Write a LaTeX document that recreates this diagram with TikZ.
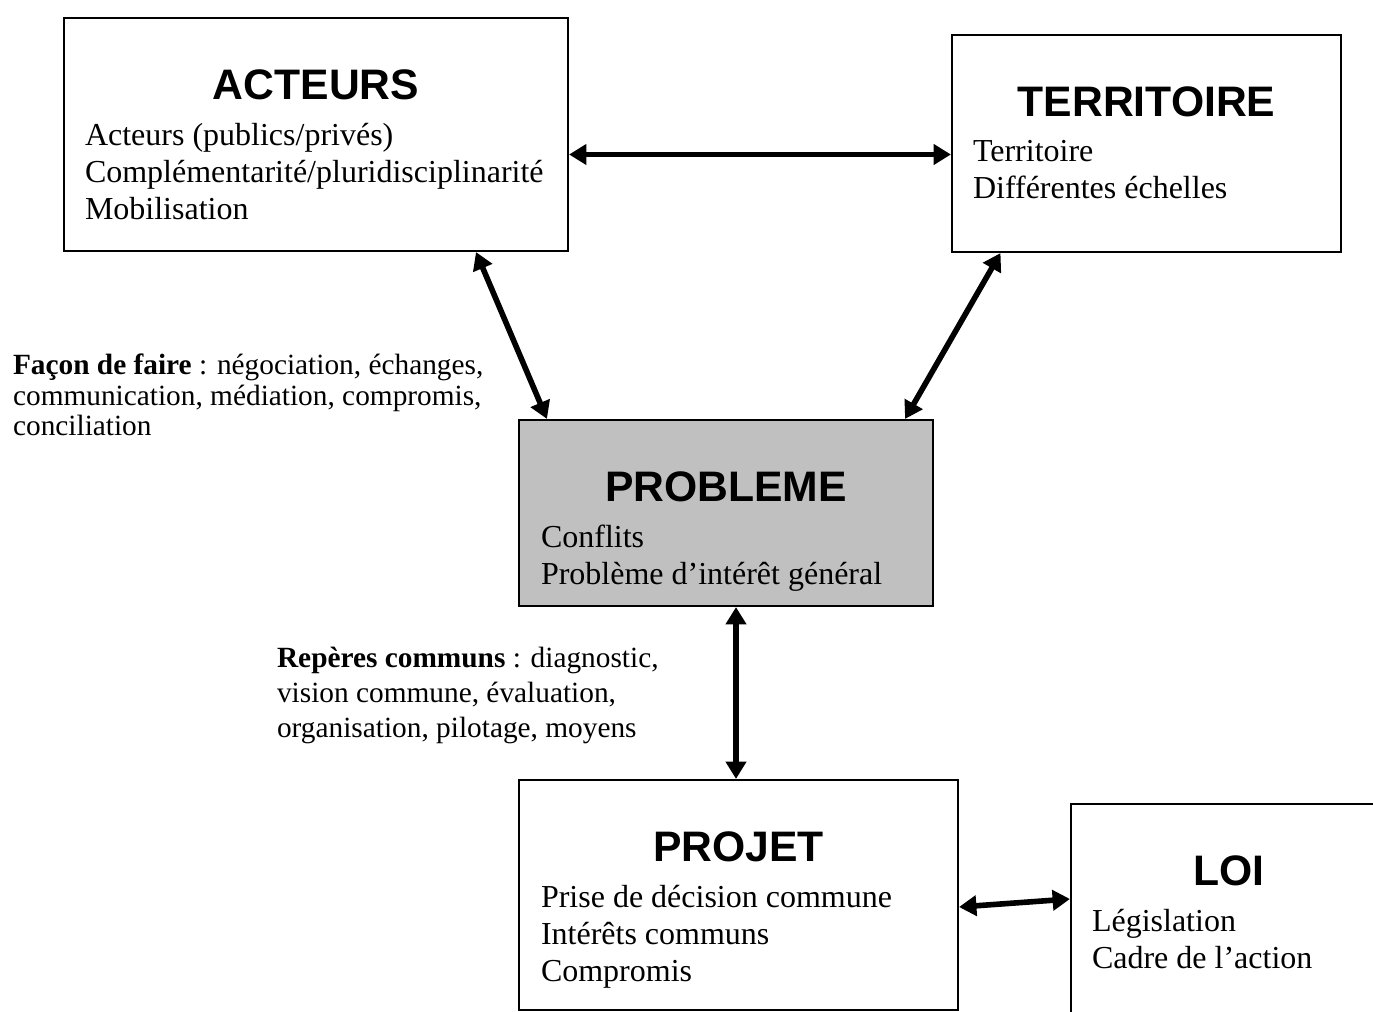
\documentclass[tikz,border=0pt]{standalone}
\usepackage{fontspec}
\setmainfont{Liberation Serif}
\newfontfamily\headfont{Liberation Sans}
\usetikzlibrary{arrows.meta, calc}
\definecolor{probgray}{RGB}{192,192,192}

\begin{document}
\begin{tikzpicture}[
    x=0.375pt, y=-0.375pt,
    line width=0.8pt,
    box/.style={
      rectangle,
      draw,
      inner sep=0pt
    },
    title/.style={
      font=\headfont\bfseries\fontsize{16}{19}\selectfont,
      anchor=base,
      inner sep=0pt
    },
    body/.style={
      font=\fontsize{12}{13.9}\selectfont,
      align=left,
      anchor=north west,
      inner sep=0pt
    },
    note/.style={
      align=left,
      anchor=north west,
      inner sep=0pt
    },
    arrowstyle/.style={
      {Triangle[length=6.5pt, width=7.5pt]}-{Triangle[length=6.5pt, width=7.5pt]},
      line width=2.1pt
    }
]
\useasboundingbox (0,0) rectangle (1373,1012);

% 1. BOXES
\node[box, minimum width=189pt, minimum height=87.375pt] (acteurs) at (316,134.5) {};
\node[box, minimum width=145.875pt, minimum height=81.375pt] (territoire) at (1146.5,143.5) {};
\node[box, fill=probgray, minimum width=155.25pt, minimum height=69.75pt] (probleme) at (726,513) {};
\node[box, minimum width=164.625pt, minimum height=86.25pt] (projet) at (738.5,895) {};
\node[box, minimum width=118.5pt, minimum height=92.25pt] (loi) at (1229,927) {};

% titles and contents
\node[title] (acteurstitle) at ($(acteurs.north)+(0,83)$) {ACTEURS};
\node[body] (acteurstext) at ($(acteurs.north west)+(21,105)$)
    {Acteurs (publics/privés)\\Complémentarité/pluridisciplinarité\\Mobilisation};

\node[title] (territoiretitle) at ($(territoire.north)+(0,83)$) {TERRITOIRE};
\node[body] (territoiretext) at ($(territoire.north west)+(21,105)$)
    {Territoire\\Différentes échelles};

\node[title] (problemetitle) at ($(probleme.north)+(0,83)$) {PROBLEME};
\node[body] (problemetext) at ($(probleme.north west)+(22,105)$)
    {Conflits\\Problème d’intérêt général};

\node[title] (projettitle) at ($(projet.north)+(0,83)$) {PROJET};
\node[body] (projettext) at ($(projet.north west)+(22,105)$)
    {Prise de décision commune\\Intérêts communs\\Compromis};

\node[title] (loititle) at ($(loi.north)+(0,83)$) {LOI};
\node[body] (loitext) at ($(loi.north west)+(21,105)$)
    {Législation\\Cadre de l’action};

% 2. ARROWS
\draw[arrowstyle] ($(acteurs.east)+(0,20)$) coordinate (at1) -- (at1 -| territoire.west);
\draw[arrowstyle] ($(acteurs.south)+(160,0)$) -- ($(probleme.north west)+(29,0)$);
\draw[arrowstyle] ($(territoire.south)+(-146,0)$) -- ($(probleme.north east)+(-29,0)$);
\draw[arrowstyle] ($(probleme.south)+(10,0)$) coordinate (pp1) -- (pp1 |- projet.north);
\draw[arrowstyle] ($(projet.east)+(0,12)$) -- ($(loi.west)+(0,-28)$);

% notes beside the arrows
\node[note, font=\fontsize{11}{11.4}\selectfont] (facon) at (12,353)
    {\textbf{Façon de faire} : négociation, échanges,\\communication, médiation, compromis,\\conciliation};
\node[note, font=\fontsize{11}{13.1}\selectfont] (reperes) at (276,646)
    {\textbf{Repères communs} : diagnostic,\\vision commune, évaluation,\\organisation, pilotage, moyens};

\end{tikzpicture}
\end{document}
